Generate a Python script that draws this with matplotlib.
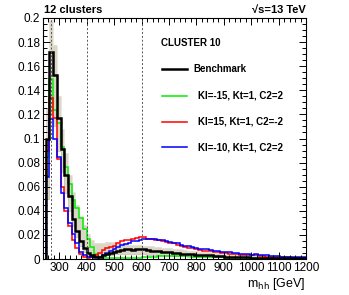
import numpy as np
import matplotlib
matplotlib.use("Agg")
import matplotlib.pyplot as plt
from matplotlib.ticker import MultipleLocator, FuncFormatter
from matplotlib.lines import Line2D

plt.rcParams['font.family'] = ['Liberation Sans', 'DejaVu Sans']

# m_hh binning: 70 bins between 250 and 1200 GeV
m_lo, m_hi, n_bins = 250, 1200, 70

benchmark = [0.100, 0.172, 0.153, 0.117, 0.091, 0.070, 0.052, 0.033, 0.023, 0.015,
             0.009, 0.005, 0.003, 0.002, 0.002, 0.003, 0.004, 0.005, 0.006, 0.007,
             0.0075, 0.008, 0.008, 0.0075, 0.008, 0.0085, 0.008, 0.0075, 0.007, 0.0065,
             0.0065, 0.006, 0.006, 0.0055, 0.005, 0.005, 0.0045, 0.0045, 0.004, 0.004,
             0.0035, 0.0035, 0.003, 0.003, 0.003, 0.0025, 0.0025, 0.0025, 0.002, 0.002,
             0.002, 0.0018, 0.0015, 0.0015, 0.0015, 0.0012, 0.0012, 0.001, 0.001, 0.001,
             0.001, 0.0008, 0.0008, 0.0008, 0.0006, 0.0006, 0.0006, 0.0005, 0.0005, 0.0005]

green_vals = [0.085, 0.149, 0.124, 0.113, 0.093, 0.076, 0.062, 0.049, 0.042, 0.034,
              0.025, 0.017, 0.010, 0.004, 0.001, 0.0005, 0.0005, 0.0005, 0.0005, 0.0005,
              0.0005, 0.0005, 0.0006, 0.0008, 0.001, 0.0012, 0.0015, 0.0018, 0.002, 0.002,
              0.0022, 0.0025, 0.0025, 0.0025, 0.0025, 0.0025, 0.0025, 0.0025, 0.0022, 0.002,
              0.002, 0.0018, 0.0018, 0.0016, 0.0016, 0.0015, 0.0014, 0.0013, 0.0012, 0.0012,
              0.001, 0.001, 0.001, 0.001, 0.001, 0.0009, 0.0009, 0.0009, 0.0008, 0.0008,
              0.0008, 0.0008, 0.0007, 0.0007, 0.0007, 0.0007, 0.0006, 0.0006, 0.0006, 0.0006]

red_vals = [0.090, 0.134, 0.117, 0.083, 0.060, 0.040, 0.027, 0.016, 0.009, 0.004,
            0.0015, 0.001, 0.0015, 0.003, 0.005, 0.0075, 0.009, 0.010, 0.011, 0.013,
            0.015, 0.016, 0.016, 0.017, 0.0175, 0.0185, 0.018, 0.017, 0.017, 0.016,
            0.016, 0.015, 0.014, 0.0135, 0.013, 0.012, 0.011, 0.010, 0.0095, 0.009,
            0.008, 0.0075, 0.007, 0.007, 0.0065, 0.006, 0.0055, 0.005, 0.005, 0.0045,
            0.004, 0.004, 0.0035, 0.0035, 0.003, 0.003, 0.003, 0.0025, 0.0025, 0.002,
            0.002, 0.002, 0.0018, 0.0015, 0.0015, 0.0015, 0.0012, 0.0012, 0.001, 0.001]

blue_vals = [0.068, 0.116, 0.100, 0.085, 0.055, 0.042, 0.030, 0.021, 0.013, 0.006,
             0.003, 0.002, 0.0015, 0.0015, 0.002, 0.003, 0.005, 0.0065, 0.0085, 0.010,
             0.0115, 0.0125, 0.0135, 0.015, 0.015, 0.016, 0.0165, 0.017, 0.0165, 0.017,
             0.016, 0.0155, 0.015, 0.0145, 0.0135, 0.013, 0.012, 0.011, 0.0105, 0.010,
             0.009, 0.0085, 0.008, 0.008, 0.0075, 0.007, 0.0065, 0.006, 0.006, 0.0055,
             0.005, 0.005, 0.0045, 0.004, 0.004, 0.0035, 0.004, 0.0035, 0.003, 0.003,
             0.0025, 0.0025, 0.0025, 0.002, 0.002, 0.002, 0.002, 0.0018, 0.0018, 0.0018]

# envelope of the other cluster members (grey band)
band_low = [0.050, 0.120, 0.110, 0.090, 0.072, 0.055, 0.040, 0.027, 0.018, 0.011,
            0.006, 0.003, 0.002, 0.002, 0.002, 0.002, 0.003, 0.003, 0.004, 0.004,
            0.004, 0.004, 0.004, 0.004, 0.004, 0.004, 0.004, 0.0035, 0.0035, 0.0035,
            0.003, 0.003, 0.003, 0.003, 0.0025, 0.0025, 0.0025, 0.0025, 0.002, 0.002,
            0.002, 0.002, 0.0018, 0.0018, 0.0016, 0.0016, 0.0015, 0.0014, 0.0013, 0.0012,
            0.0012, 0.001, 0.001, 0.001, 0.001, 0.0009, 0.0008, 0.0008, 0.0008, 0.0007,
            0.0007, 0.0006, 0.0006, 0.0006, 0.0005, 0.0005, 0.0005, 0.0004, 0.0004, 0.0004]
band_high = [0.125, 0.198, 0.178, 0.135, 0.108, 0.088, 0.070, 0.056, 0.045, 0.036,
             0.028, 0.021, 0.016, 0.013, 0.013, 0.013, 0.014, 0.014, 0.014, 0.013,
             0.013, 0.013, 0.012, 0.012, 0.012, 0.012, 0.011, 0.011, 0.011, 0.010,
             0.010, 0.0095, 0.009, 0.009, 0.0085, 0.008, 0.008, 0.0075, 0.007, 0.007,
             0.0065, 0.006, 0.006, 0.0055, 0.0055, 0.005, 0.005, 0.0045, 0.0045, 0.004,
             0.004, 0.004, 0.0035, 0.0035, 0.003, 0.003, 0.003, 0.003, 0.0025, 0.0025,
             0.0025, 0.0022, 0.002, 0.002, 0.002, 0.0018, 0.0018, 0.0018, 0.0016, 0.0015]

cluster_lines = [270, 400, 600]

labels = ['Kl=-15, Kt=1, C2=2', 'Kl=15, Kt=1, C2=-2', 'Kl=-10, Kt=1, C2=2']
colors = ['#00ee00', '#ff0000', '#0000ff']

edges = np.linspace(m_lo, m_hi, n_bins + 1)

W, H = 349, 295
fig = plt.figure(figsize=(W / 100, H / 100), dpi=100)
ax = fig.add_axes([43 / W, 1 - 259 / H, (306 - 43) / W, (259 - 18) / H])

ax.stairs(band_high, edges, baseline=band_low, fill=True, color='#dcd6c6', lw=0)
ax.stairs(band_high, edges, color='#e8e4da', lw=0.6)
ax.stairs(band_low, edges, color='#c9c2ae', lw=0.6)

for xv in cluster_lines:
    ax.axvline(xv, color='#555555', lw=0.7, ls=(0, (2, 2)))

ax.stairs(green_vals, edges, color=colors[0], lw=1.1)
ax.stairs(red_vals, edges, color=colors[1], lw=1.1)
ax.stairs(blue_vals, edges, color=colors[2], lw=1.1)
ax.stairs(benchmark, edges, color='black', lw=1.8)

ax.set_xlim(240, 1200)
ax.set_ylim(0, 0.2)
ax.xaxis.set_major_locator(MultipleLocator(100))
ax.xaxis.set_minor_locator(MultipleLocator(20))
ax.yaxis.set_major_locator(MultipleLocator(0.02))
ax.yaxis.set_minor_locator(MultipleLocator(0.005))
ax.yaxis.set_major_formatter(FuncFormatter(lambda v, p: '%g' % round(v, 3)))
ax.xaxis.set_major_formatter(FuncFormatter(lambda v, p: '' if v < 300 else '%d' % v))
ax.tick_params(which='both', direction='in', top=True, right=True, labelsize=8.5, width=0.7, pad=2)
ax.tick_params(which='major', length=5)
ax.tick_params(which='minor', length=2.8)
for s in ax.spines.values():
    s.set_linewidth(0.8)

def px(x, y):
    return x / W, 1 - y / H

fig.text(*px(44, 10), '12 clusters', fontsize=8, fontweight='bold', ha='left', va='center')
fig.text(*px(306, 10), '√s=13 TeV', fontsize=8, fontweight='bold', ha='right', va='center')
fig.text(*px(306, 284), r'm$_{\mathrm{hh}}$ [GeV]', fontsize=9, ha='right', va='center')

fig.text(*px(161, 43), 'CLUSTER 10', fontsize=7, fontweight='bold', ha='left', va='center')
leg_y = [69, 96, 122, 147]
leg_items = [('Benchmark', 'black', 1.8, 193)] + [(l, c, 1.1, 198) for l, c in zip(labels, colors)]
for (txt, col, lw, tx), y in zip(leg_items, leg_y):
    fig.add_artist(Line2D([162 / W, 187 / W], [1 - y / H, 1 - y / H], color=col, lw=lw,
                          transform=fig.transFigure))
    fig.text(*px(tx, y), txt, fontsize=7, fontweight='bold', ha='left', va='center')

fig.savefig('out.png', dpi=100)
